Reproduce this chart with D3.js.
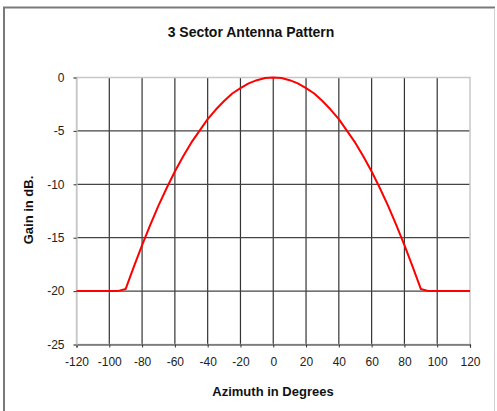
<!DOCTYPE html>
<html>
<head>
<meta charset="utf-8">
<script src="https://cdn.jsdelivr.net/npm/d3@7"></script>
<style>
  body { margin: 0; background: #fff; }
  text { font-family: "Liberation Sans", Arial, sans-serif; }
</style>
</head>
<body>
<div id="chart"></div>
<script>
// azimuth (degrees) and gain (dB)
const azimuth = [-120, -115, -110, -105, -100, -95, -90, -85, -80, -75, -70, -65, -60, -55, -50, -45, -40, -35, -30, -25, -20, -15, -10, -5, 0,
                 5, 10, 15, 20, 25, 30, 35, 40, 45, 50, 55, 60, 65, 70, 75, 80, 85, 90, 95, 100, 105, 110, 115, 120];
const gain = [-20, -20, -20, -20, -20, -20, -19.8, -17.7, -15.7, -13.8, -12.0, -10.35, -8.8, -7.4, -6.1, -5.0, -3.9, -3.0, -2.2, -1.5, -1.0, -0.55, -0.25, -0.05, 0,
              -0.05, -0.25, -0.55, -1.0, -1.5, -2.2, -3.0, -3.9, -5.0, -6.1, -7.4, -8.8, -10.35, -12.0, -13.8, -15.7, -17.7, -19.8, -20, -20, -20, -20, -20, -20];
const xTicks = [-120, -100, -80, -60, -40, -20, 0, 20, 40, 60, 80, 100, 120];
const yTicks = [-25, -20, -15, -10, -5, 0];

const width = 497, height = 411;
const margin = {top: 77.5, right: 27, bottom: 66.5, left: 76.5};

const svg = d3.select("#chart").append("svg")
    .attr("width", width)
    .attr("height", height);

// outer frame
svg.append("line").attr("x1", 3).attr("x2", 495).attr("y1", 7.5).attr("y2", 7.5)
    .attr("stroke", "#7a7a7a").attr("stroke-width", 2);
svg.append("line").attr("x1", 4).attr("x2", 4).attr("y1", 7).attr("y2", 411)
    .attr("stroke", "#7a7a7a").attr("stroke-width", 2);
svg.append("line").attr("x1", 494.5).attr("x2", 494.5).attr("y1", 8).attr("y2", 411)
    .attr("stroke", "#d0d0d0").attr("stroke-width", 1);

const x = d3.scaleLinear().domain([-120, 120]).range([margin.left, width - margin.right]);
const y = d3.scaleLinear().domain([-25, 0]).range([height - margin.bottom, margin.top]);

// vertical grid
svg.append("g").selectAll("line")
    .data(xTicks.slice(1, -1))
    .join("line")
    .attr("x1", d => x(d)).attr("x2", d => x(d))
    .attr("y1", y(0)).attr("y2", y(-25))
    .attr("stroke", "#333").attr("stroke-width", 1.2);

// horizontal grid
svg.append("g").selectAll("line")
    .data(yTicks.slice(1, -1))
    .join("line")
    .attr("x1", x(-120)).attr("x2", x(120))
    .attr("y1", d => y(d)).attr("y2", d => y(d))
    .attr("stroke", "#444").attr("stroke-width", 1.2);

// plot border (light gray)
svg.append("rect")
    .attr("x", x(-120)).attr("y", y(0))
    .attr("width", x(120) - x(-120)).attr("height", y(-25) - y(0))
    .attr("fill", "none").attr("stroke", "#c8c8c8").attr("stroke-width", 1.5);

// axes, plain hyphen for negatives like the original
const fmt = d => String(d);
const xAxis = svg.append("g")
    .attr("transform", `translate(0,${y(-25)})`)
    .call(d3.axisBottom(x).tickValues(xTicks).tickFormat(fmt).tickSize(3).tickPadding(10));
const yAxis = svg.append("g")
    .attr("transform", `translate(${x(-120)},0)`)
    .call(d3.axisLeft(y).tickValues(yTicks).tickFormat(fmt).tickSize(3).tickPadding(9));

[xAxis, yAxis].forEach(a => {
    a.select(".domain").attr("stroke", "#333").attr("stroke-width", 1.2);
    a.selectAll(".tick line").attr("stroke", "#333");
    a.selectAll(".tick text")
        .attr("fill", "#222")
        .style("font-size", "12px")
        .style("font-family", "'Liberation Sans', Arial, sans-serif");
});
yAxis.select(".domain").attr("stroke", "#c8c8c8");

// curve
const line = d3.line()
    .x((d, i) => x(azimuth[i]))
    .y(d => y(d));

svg.append("path")
    .datum(gain)
    .attr("d", line)
    .attr("fill", "none")
    .attr("stroke", "#ff0000")
    .attr("stroke-width", 2)
    .attr("stroke-linejoin", "round");

// titles
svg.append("text")
    .attr("x", 251).attr("y", 37)
    .attr("text-anchor", "middle")
    .style("font-size", "14px").style("font-weight", "bold")
    .attr("fill", "#111")
    .text("3 Sector Antenna Pattern");

svg.append("text")
    .attr("x", 273).attr("y", 396)
    .attr("text-anchor", "middle")
    .style("font-size", "13px").style("font-weight", "bold")
    .attr("fill", "#111")
    .text("Azimuth in Degrees");

svg.append("text")
    .attr("transform", "translate(33,210) rotate(-90)")
    .attr("text-anchor", "middle")
    .style("font-size", "13px").style("font-weight", "bold")
    .attr("fill", "#111")
    .text("Gain in dB.");
</script>
</body>
</html>
